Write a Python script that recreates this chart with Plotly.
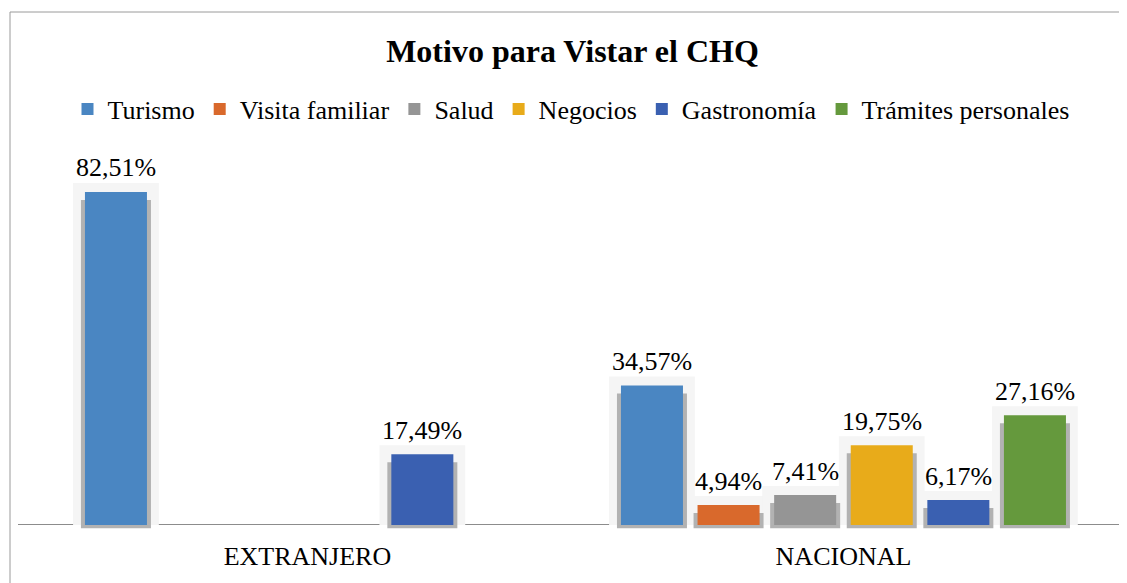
import plotly.graph_objects as go

categories = ["EXTRANJERO", "NACIONAL"]
series_names = ["Turismo", "Visita familiar", "Salud", "Negocios", "Gastronomía", "Trámites personales"]
turismo = [82.51, 34.57]
visita_familiar = [0, 4.94]
salud = [0, 7.41]
negocios = [0, 19.75]
gastronomia = [17.49, 6.17]
tramites = [0, 27.16]
series_values = [turismo, visita_familiar, salud, negocios, gastronomia, tramites]
colors = ["#4a86c2", "#d9692c", "#959595", "#e8ab1a", "#3a60b1", "#65993d"]

FONT = "Liberation Serif"
OFF = 8  # page body margin in the browser
W, H = 1127 - OFF, 583 - OFF
L, R, T, B = 18 - OFF, 0, 150 - OFF, 54
plot_w = W - L - R
plot_h = H - T - B
y_min, y_max = -1, 92.9
x_min, x_max = -0.540, 1.529

n = len(series_names)
slot = 0.1429
bar_w = 0.1157
shadow_w = 0.1306
glow_w = 0.160
px_per_unit = plot_h / (y_max - y_min)

fig = go.Figure()
xs = list(range(len(categories)))


def pos(i):
    return [c + (i - (n - 1) / 2) * slot for c in xs]


# soft glow layer
for i, vals in enumerate(series_values):
    fig.add_trace(go.Bar(
        x=pos(i), y=[v + 9 / px_per_unit if v > 0 else None for v in vals],
        width=glow_w, marker=dict(color="#f5f5f5", line=dict(width=0)),
        showlegend=False, hoverinfo="skip"))
# shadow layer
for i, vals in enumerate(series_values):
    fig.add_trace(go.Bar(
        x=pos(i), y=[v - 8 / px_per_unit + 0.8 if v > 0 else None for v in vals],
        base=-0.8,
        width=shadow_w, marker=dict(color="#b2b2b2", line=dict(width=0)),
        showlegend=False, hoverinfo="skip"))
# main bars
for i, (name, vals) in enumerate(zip(series_names, series_values)):
    fig.add_trace(go.Bar(
        x=pos(i), y=[v if v > 0 else None for v in vals], name=name,
        width=bar_w, marker=dict(color=colors[i], line=dict(width=0))))

annotations = []
for i, vals in enumerate(series_values):
    for xp, v in zip(pos(i), vals):
        if v > 0:
            annotations.append(dict(
                x=xp, y=v, xref="x", yref="y",
                text=f"{v:.2f}".replace(".", ",") + "%",
                showarrow=False, yanchor="middle", yshift=24,
                font=dict(family=FONT, size=26, color="#000000")))


def px_to_paper_x(px):
    return (px - OFF - L) / plot_w


def px_to_paper_y(py):
    return (H - B - (py - OFF)) / plot_h


shapes = [
    dict(type="line", xref="paper", yref="paper",
         x0=px_to_paper_x(10), x1=px_to_paper_x(10),
         y0=px_to_paper_y(600), y1=px_to_paper_y(12),
         line=dict(color="#9a9a9a", width=1)),
    dict(type="line", xref="paper", yref="paper",
         x0=px_to_paper_x(10), x1=px_to_paper_x(1140),
         y0=px_to_paper_y(12), y1=px_to_paper_y(12),
         line=dict(color="#9a9a9a", width=1)),
]

fig.update_layout(
    width=W, height=H,
    margin=dict(l=L, r=R, t=T, b=B, pad=0),
    barmode="overlay",
    paper_bgcolor="white", plot_bgcolor="white",
    font=dict(family=FONT, size=26, color="#000000"),
    title=dict(text="<b>Motivo para Vistar el CHQ</b>", x=0.5, xref="paper",
               y=1 - (51 - OFF) / H, yanchor="middle", yref="container",
               font=dict(family=FONT, size=32, color="#000000")),
    legend=dict(orientation="h", x=px_to_paper_x(571), xanchor="center",
                y=px_to_paper_y(109), yanchor="middle",
                font=dict(family=FONT, size=26, color="#000000"),
                bgcolor="rgba(0,0,0,0)"),
    xaxis=dict(range=[x_min, x_max], tickvals=xs, ticktext=categories,
               showgrid=False, zeroline=False, showline=False, ticks="",
               ticklabelstandoff=9,
               tickfont=dict(family=FONT, size=26, color="#000000")),
    yaxis=dict(range=[y_min, y_max], showgrid=False, showticklabels=False,
               zeroline=True, zerolinecolor="#8c8c8c", zerolinewidth=1,
               showline=False, ticks=""),
    annotations=annotations,
    shapes=shapes,
)

fig.write_html("out.html")
